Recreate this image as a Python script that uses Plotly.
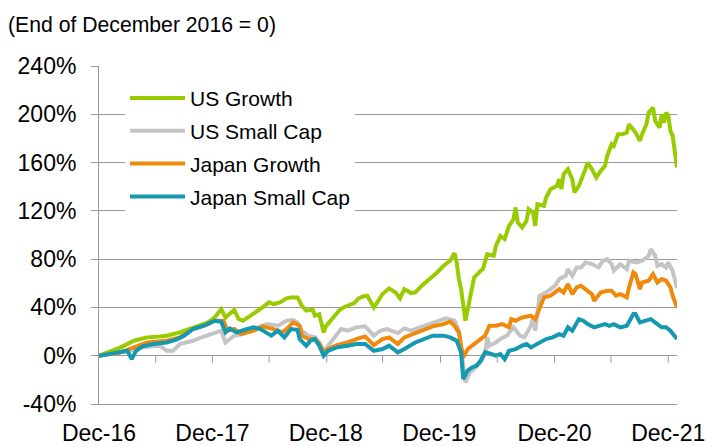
import numpy as np
import pandas as pd
import plotly.graph_objects as go

START = pd.Timestamp("2016-12-30")

# weeks since end of Dec 2016, cumulative return (%)
us_growth_wk = [0,10,16,22,28,31,37,43,50,53,56,58,60,62,64,66,69,72,75,78,80,83,86,88,91,93,95,98,99,101,
                102,103,104,107,110,112,114,117,119,121,123,126,128,130,133,136,138,140,143,145,148,152,155,158,161,163,164,165,166,168,
                169,171,172,175,176,178,181,182,184,186,188,190,191,192,194,196,197,199,200,201,204,205,207,210,211,212,213,215,217,218,
                220,223,224,226,228,230,232,233,235,236,238,240,242,243,245,246,248,249,251,252,254,255,257,258,259,260,261,262,263,264,265]
us_growth_val = [0,6.9,12.4,15.2,16,16.6,19.3,23.5,27.6,31.7,38.6,31.7,34.5,38.1,30.4,29,32.6,35.9,40,44.2,42.8,44.2,47.5,48.3,48.3,41.4,37.3,38.1,33.1,34.5,
                 27.6,19.3,24.3,30.4,37.3,40,41.4,43.6,47.5,49.1,49.7,40,45.5,51.1,55.8,52.4,47.5,55.2,51.9,52.4,58,64,69,74.5,78.7,85,77.3,63.5,55.2,29,
                 38.6,58,64.9,70.4,71.7,84.1,82.8,91,99.3,96.6,107.6,113,122.8,110.4,106.2,111.7,121.4,118.6,107.6,125.5,124.2,131,138,140.7,146.2,138,150.4,154.5,146.2,135.2,
                 140.7,154.5,160,154.5,147.6,153.1,157.3,165.5,175.2,173.8,183.5,183.5,184.9,191.8,187.6,184.9,178,183.5,191.8,201.4,205.5,194.5,189,200,193.1,201.4,198.7,186.2,182.1,168.3,155.9]

us_small_wk = [0,10,14,19,28,31,34,37,43,47,53,56,58,62,66,71,77,82,86,89,91,93,96,99,101,103,105,108,111,114,
               118,122,126,129,132,137,140,143,147,152,156,159,163,165,167,168,170,172,175,177,178,179,182,184,187,190,193,195,198,199,
               200,202,205,209,211,214,215,217,219,221,223,226,229,231,233,235,236,239,242,243,246,249,252,253,255,256,258,260,261,263,265]
us_small_val = [0,2.8,4.1,6.9,8.3,4.1,4.1,9.7,12.4,15.2,19.3,20.7,11,16.6,17.9,22.1,26.2,24.8,29,29.5,27.6,20.7,16.6,15.2,11,4.1,8.3,15.2,22.1,20.7,
                23.5,24.3,16.6,20.7,22.1,18.8,22.6,20.7,23.5,26.2,29,30.9,29,20.7,-8.3,-22.1,-13.8,-11,-5.5,1.4,15.2,8.3,11,13.8,16.6,23.5,16.6,15.2,24.8,31.7,
                20.7,49.7,52.4,57.9,63.5,66.2,71.7,66.2,73.1,73.1,77.3,75.9,73.1,78.6,80,75.9,70.4,75.9,71.7,78.6,77.3,78.6,82.8,88.3,82.8,74.5,75.9,73.1,77.3,70.4,56]

jp_growth_wk = [0,10,16,22,31,37,43,50,53,57,59,62,65,71,75,80,84,86,89,92,93,96,99,101,103,105,109,114,118,122,
                126,130,133,137,140,144,149,153,158,161,163,165,166,167,169,171,173,175,177,179,182,185,188,189,191,194,198,200,202,204,
                207,209,211,213,215,217,219,221,223,226,227,230,233,235,237,239,242,243,245,246,248,249,252,254,256,258,260,262,263,265]
jp_growth_val = [0,2.8,6.9,11,12.4,15.2,22.1,26.2,29,29,20.7,22.1,17.9,20.7,24.3,22.1,19.3,22.1,27.6,24.8,16.6,13.8,13.8,9.7,2.8,5.5,8.8,11,13.8,16,
                 8.8,13.8,15.2,9.7,15.2,17.9,22.1,24.3,26.2,28.2,24.8,19.3,8.3,-1.4,5.5,8.3,11,13.8,16.6,24.8,24.8,26.2,23.5,30.3,29,31.7,33.1,30.3,40,48.3,
                 49.7,52.4,55.2,52.4,59.3,51,56.6,57.9,55.2,51,45.5,52.4,53.8,53.8,49.7,51,48.3,56.6,69,67.6,55.2,60.7,62.1,67.6,60.7,63.5,62.1,56.6,49.7,40]

jp_small_wk = [0,5,10,13,15,17,20,25,31,36,39,43,48,53,56,58,60,63,68,71,74,79,82,85,88,91,92,95,97,99,
               101,103,105,109,114,118,122,126,130,133,137,140,145,149,153,158,161,164,166,167,169,171,173,175,177,179,182,184,186,188,
               191,194,196,198,201,203,205,208,211,213,215,217,220,222,224,227,229,232,234,236,239,242,245,246,248,251,253,256,258,260,262,265]
jp_small_val = [0,1.4,2.8,4.1,-2.8,4.1,7.7,9.7,11,13.8,16.6,22.1,24.8,29,28.2,19.3,22.6,19.3,22.1,23.5,22.1,16.6,20.7,15.2,22.1,21.5,13.8,8.3,12.4,13.8,
                8.3,0,4.1,6.9,8.3,9.7,9.7,4.1,5.5,8.3,2.8,5.5,11,13.8,16.6,16.6,15.2,12.4,2.8,-19.3,-12.4,-9.7,-8.3,-4,3,2,0,1.4,-2.8,4.1,
                5.5,8.3,9.7,6.9,9.7,12.4,13.8,15.2,17.9,16.6,23.5,20.7,30.3,29,26.2,23.5,24.8,26.2,24.8,26.2,23.5,24.8,34.5,34.5,27.6,29,30.3,26.2,23.5,23.5,20.7,13.8]

series_names = ["US Growth", "US Small Cap", "Japan Growth", "Japan Small Cap"]
series_colors = ["#99CC00", "#C4C4C4", "#F08A0C", "#1599B0"]

x_tick_dates = ["2016-12-30", "2017-12-29", "2018-12-28", "2019-12-27", "2020-12-31", "2021-12-31"]
x_tick_text = ["Dec-16", "Dec-17", "Dec-18", "Dec-19", "Dec-20", "Dec-21"]
half_year_ticks = ["2017-06-30", "2017-12-29", "2018-06-29", "2018-12-31", "2019-06-28", "2019-12-31",
                   "2020-06-30", "2020-12-31", "2021-06-30", "2021-12-31"]
y_tick_vals = [-40, 0, 40, 80, 120, 160, 200, 240]
y_tick_text = [f"{v}%" for v in y_tick_vals]


def to_dates(weeks):
    return [START + pd.Timedelta(weeks=w) for w in weeks]


data = [(us_growth_wk, us_growth_val), (us_small_wk, us_small_val),
        (jp_growth_wk, jp_growth_val), (jp_small_wk, jp_small_val)]

fig = go.Figure()
for (wk, val), name, color in zip(data, series_names, series_colors):
    fig.add_trace(go.Scatter(x=to_dates(wk), y=val, mode="lines", name=name,
                             legendgroup=name,
                             line=dict(color=color, width=4)))

shapes = []
for d in half_year_ticks:
    shapes.append(dict(type="line", xref="x", yref="y", x0=d, x1=d,
                       ysizemode="pixel", yanchor=0, y0=0, y1=-7,
                       line=dict(color="#999999", width=1)))

L, R, T, B = 98.5, 30.7, 66, 41.5
W, H = 708, 446
pw, ph = W - L - R, H - T - B

font_family = "Liberation Sans, Arial, sans-serif"
fig.update_layout(
    width=W, height=H,
    margin=dict(l=L, r=R, t=T, b=B, autoexpand=False),
    paper_bgcolor="white", plot_bgcolor="white",
    font=dict(family=font_family, size=23, color="#000000"),
    annotations=[dict(text="(End of December 2016 = 0)", xref="paper", yref="paper",
                      x=(5 - L) / pw, xanchor="left", y=(H - B - 25) / ph, yanchor="middle",
                      showarrow=False, font=dict(size=21.2, color="#000000"))],
    legend=dict(x=0.045, y=0.965, xanchor="left", yanchor="top", bgcolor="white",
                font=dict(size=21), itemwidth=55, tracegroupgap=2.5, traceorder="grouped"),
    shapes=shapes,
    xaxis=dict(type="date", range=[START, START + pd.Timedelta(weeks=265)], automargin=False,
               showgrid=False, zeroline=False, showline=True, linecolor="#999999", linewidth=1,
               ticks="", tickvals=x_tick_dates, ticktext=x_tick_text, ticklabelstandoff=8),
    yaxis=dict(range=[-40, 240], tickvals=y_tick_vals, ticktext=y_tick_text, automargin=False,
               showgrid=True, gridcolor="#999999", gridwidth=1, zeroline=False,
               showline=True, linecolor="#999999", linewidth=1,
               ticks="outside", ticklen=7, tickcolor="#999999", ticklabelstandoff=10),
)

fig.write_html("out.html", config={"displayModeBar": False},
               post_script="document.body.style.margin='0';document.body.style.overflow='hidden';")
